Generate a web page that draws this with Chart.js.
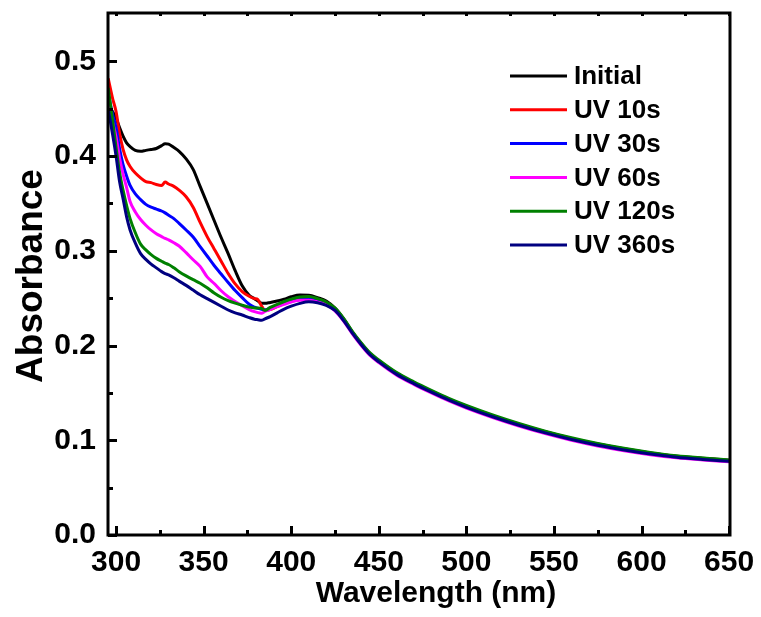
<!DOCTYPE html>
<html>
<head>
<meta charset="utf-8">
<script src="https://cdn.jsdelivr.net/npm/chart.js@4.4.1/dist/chart.umd.min.js"></script>
<style>
body { margin: 0; background: #fff; }
canvas { display: block; }
</style>
</head>
<body>
<canvas id="uvChart" width="761" height="617"></canvas>
<script>
// wavelength (nm)
var wavelength = [295.5, 298, 300, 302, 304, 306, 308, 311, 314, 317,
  320, 323, 326, 328, 330, 333, 336, 340, 344, 348,
  352, 356, 360, 364, 368, 372, 376, 379, 381, 383,
  385, 388, 392, 396, 400, 405, 410, 415, 420, 425,
  430, 435, 440, 445, 450, 460, 470, 480, 490, 500,
  515, 530, 545, 560, 575, 590, 605, 620, 635, 650];

var initial = [0.452, 0.447, 0.440, 0.430, 0.421, 0.414, 0.410, 0.406, 0.405, 0.406,
  0.407, 0.408, 0.411, 0.413, 0.4125, 0.409, 0.405, 0.397, 0.386, 0.368,
  0.350, 0.332, 0.314, 0.297, 0.279, 0.263, 0.253, 0.2495, 0.247, 0.2447,
  0.2445, 0.2455, 0.247, 0.249, 0.2515, 0.2533, 0.2530, 0.2505, 0.247, 0.2395,
  0.228, 0.214, 0.202, 0.1915, 0.184, 0.171, 0.161, 0.152, 0.1435, 0.136,
  0.126, 0.117, 0.109, 0.102, 0.096, 0.091, 0.0867, 0.0832, 0.081, 0.079];

var uv10 = [0.482, 0.461, 0.447, 0.424, 0.407, 0.396, 0.389, 0.382, 0.377, 0.373,
  0.372, 0.370, 0.369, 0.3725, 0.3705, 0.368, 0.364, 0.357, 0.346, 0.330,
  0.315, 0.302, 0.289, 0.276, 0.265, 0.257, 0.252, 0.2495, 0.2485, 0.242,
  0.2375, 0.238, 0.241, 0.2445, 0.2475, 0.2505, 0.2512, 0.249, 0.2455, 0.2385,
  0.2272, 0.2137, 0.2017, 0.1912, 0.1837, 0.1707, 0.1607, 0.1517, 0.1432, 0.1357,
  0.1257, 0.1167, 0.1087, 0.1017, 0.0957, 0.0907, 0.0864, 0.083, 0.0807, 0.0787];

var uv30 = [0.466, 0.444, 0.430, 0.408, 0.391, 0.379, 0.369, 0.360, 0.354, 0.349,
  0.346, 0.344, 0.342, 0.340, 0.3375, 0.334, 0.329, 0.322, 0.3145, 0.3045,
  0.2945, 0.2845, 0.2755, 0.2665, 0.258, 0.2505, 0.2435, 0.2405, 0.2392, 0.2383,
  0.2375, 0.2395, 0.242, 0.2445, 0.2467, 0.2485, 0.249, 0.2475, 0.2445, 0.2375,
  0.2268, 0.2133, 0.2013, 0.1908, 0.1833, 0.1703, 0.1603, 0.1513, 0.1428, 0.1353,
  0.1253, 0.1163, 0.1083, 0.1013, 0.0953, 0.0903, 0.086, 0.0826, 0.0803, 0.0783];

var uv60 = [0.458, 0.436, 0.420, 0.398, 0.381, 0.367, 0.352, 0.341, 0.333, 0.327,
  0.322, 0.318, 0.315, 0.313, 0.3115, 0.3085, 0.305, 0.298, 0.2905, 0.2835,
  0.2725, 0.2655, 0.2578, 0.2515, 0.2465, 0.242, 0.238, 0.2357, 0.2347, 0.2342,
  0.236, 0.238, 0.241, 0.2435, 0.246, 0.2478, 0.2478, 0.246, 0.2432, 0.2365,
  0.2255, 0.212, 0.200, 0.1895, 0.182, 0.169, 0.159, 0.150, 0.1415, 0.134,
  0.124, 0.115, 0.107, 0.100, 0.094, 0.089, 0.0848, 0.0815, 0.0792, 0.0772];

var uv120 = [0.472, 0.438, 0.409, 0.383, 0.364, 0.348, 0.334, 0.319, 0.307, 0.301,
  0.296, 0.292, 0.289, 0.287, 0.2855, 0.282, 0.278, 0.2735, 0.2695, 0.2658,
  0.261, 0.2555, 0.251, 0.2475, 0.2448, 0.2425, 0.2405, 0.2396, 0.2395, 0.2392,
  0.237, 0.2402, 0.2435, 0.2465, 0.249, 0.2512, 0.2518, 0.2495, 0.246, 0.2395,
  0.2285, 0.2148, 0.2028, 0.1922, 0.1848, 0.1718, 0.1618, 0.1528, 0.1443, 0.1368,
  0.1268, 0.1178, 0.1097, 0.1027, 0.0966, 0.0915, 0.0872, 0.0837, 0.0813, 0.0792];

var uv360 = [0.450, 0.423, 0.400, 0.373, 0.355, 0.336, 0.322, 0.308, 0.297, 0.291,
  0.286, 0.282, 0.278, 0.276, 0.2745, 0.2715, 0.268, 0.2635, 0.2585, 0.2535,
  0.2495, 0.2455, 0.2415, 0.2375, 0.2345, 0.2322, 0.2295, 0.2278, 0.2272, 0.2266,
  0.2282, 0.2305, 0.2345, 0.2385, 0.2415, 0.2445, 0.2462, 0.2452, 0.2425, 0.237,
  0.226, 0.2128, 0.2008, 0.1903, 0.1828, 0.1698, 0.1598, 0.1508, 0.1423, 0.1348,
  0.1248, 0.1158, 0.1078, 0.1008, 0.0948, 0.0898, 0.0855, 0.0821, 0.0798, 0.0778];

var seriesNames = ['Initial', 'UV 10s', 'UV 30s', 'UV 60s', 'UV 120s', 'UV 360s'];
var seriesColors = ['#000000', '#ff0000', '#0000ff', '#ff00ff', '#008000', '#000080'];
var seriesValues = [initial, uv10, uv30, uv60, uv120, uv360];

var xTicks = [300, 350, 400, 450, 500, 550, 600, 650];
var xMinorTicks = [325, 375, 425, 475, 525, 575, 625];
var yTicks = [0.0, 0.1, 0.2, 0.3, 0.4, 0.5];
var yMinorTicks = [0.05, 0.15, 0.25, 0.35, 0.45];

var FONT = "'Liberation Sans', Arial, sans-serif";

// frame, inward ticks, axis titles and legend
var decorPlugin = {
  id: 'decor',
  afterDraw: function(chart) {
    var ctx = chart.ctx;
    var a = chart.chartArea;
    var xs = chart.scales.x, ys = chart.scales.y;
    ctx.save();
    ctx.strokeStyle = '#000';
    ctx.lineCap = 'butt';

    // ticks
    function xTick(v, len, w) {
      var px = Math.round(xs.getPixelForValue(v)) + 0.5;
      ctx.lineWidth = w;
      ctx.beginPath();
      ctx.moveTo(px, a.bottom);
      ctx.lineTo(px, a.bottom - len);
      ctx.stroke();
      ctx.beginPath();
      ctx.moveTo(px, a.top);
      ctx.lineTo(px, a.top + 3);
      ctx.stroke();
    }
    function yTick(v, len, w) {
      var py = Math.round(ys.getPixelForValue(v)) + 0.5;
      ctx.lineWidth = w;
      ctx.beginPath();
      ctx.moveTo(a.left, py);
      ctx.lineTo(a.left + len, py);
      ctx.stroke();
    }
    xTicks.forEach(function(v) { xTick(v, 9, 3); });
    xMinorTicks.forEach(function(v) { xTick(v, 5, 3); });
    yTicks.forEach(function(v) { yTick(v, 9, 3); });
    yMinorTicks.forEach(function(v) { yTick(v, 5, 3); });

    // frame
    ctx.lineWidth = 3;
    ctx.strokeRect(a.left, a.top, a.right - a.left, a.bottom - a.top);

    // axis titles
    ctx.fillStyle = '#000';
    ctx.font = 'bold 30px ' + FONT;
    ctx.textAlign = 'center';
    ctx.textBaseline = 'alphabetic';
    ctx.fillText('Wavelength (nm)', 436, 602);

    ctx.save();
    ctx.translate(42, 276);
    ctx.rotate(-Math.PI / 2);
    ctx.font = 'bold 37px ' + FONT;
    ctx.fillText('Absorbance', 0, 0);
    ctx.restore();

    // legend
    ctx.font = 'bold 26px ' + FONT;
    ctx.textAlign = 'left';
    ctx.textBaseline = 'middle';
    for (var i = 0; i < seriesNames.length; i++) {
      var ly = 76 + i * 33.8;
      ctx.strokeStyle = seriesColors[i];
      ctx.lineWidth = 3;
      ctx.beginPath();
      ctx.moveTo(510, ly);
      ctx.lineTo(567, ly);
      ctx.stroke();
      ctx.fillText(seriesNames[i], 574, ly + 1);
    }
    ctx.restore();
  }
};

var ctx = document.getElementById('uvChart').getContext('2d');
var uvChart = new Chart(ctx, {
  type: 'line',
  data: {
    datasets: seriesValues.map(function(vals, i) {
      return {
        label: seriesNames[i],
        data: wavelength.map(function(w, k) { return { x: w, y: vals[k] }; }),
        borderColor: seriesColors[i],
        backgroundColor: seriesColors[i],
        borderWidth: 3,
        pointRadius: 0,
        fill: false,
        cubicInterpolationMode: 'monotone',
        order: seriesNames.length - 1 - i
      };
    })
  },
  options: {
    responsive: false,
    animation: false,
    layout: { padding: { left: 0, top: 13, right: 31, bottom: 0 } },
    plugins: {
      legend: { display: false },
      tooltip: { enabled: false }
    },
    scales: {
      x: {
        type: 'linear',
        min: 295.4,
        max: 650.5,
        grid: { display: false, drawTicks: false },
        border: { display: false },
        ticks: {
          color: '#000',
          font: { family: FONT, size: 30, weight: 'bold' },
          padding: 10,
          maxRotation: 0,
          autoSkip: false
        },
        afterBuildTicks: function(s) { s.ticks = xTicks.map(function(v) { return { value: v }; }); },
        afterFit: function(s) { s.height = 82; s.paddingLeft = 0; s.paddingRight = 0; }
      },
      y: {
        type: 'linear',
        min: 0,
        max: 0.551,
        grid: { display: false, drawTicks: false },
        border: { display: false },
        ticks: {
          color: '#000',
          font: { family: FONT, size: 30, weight: 'bold' },
          padding: 12,
          callback: function(v) { return v.toFixed(1); }
        },
        afterBuildTicks: function(s) { s.ticks = yTicks.map(function(v) { return { value: v }; }); },
        afterFit: function(s) { s.width = 108; s.paddingTop = 0; s.paddingBottom = 0; }
      }
    }
  },
  plugins: [decorPlugin]
});
</script>
</body>
</html>
